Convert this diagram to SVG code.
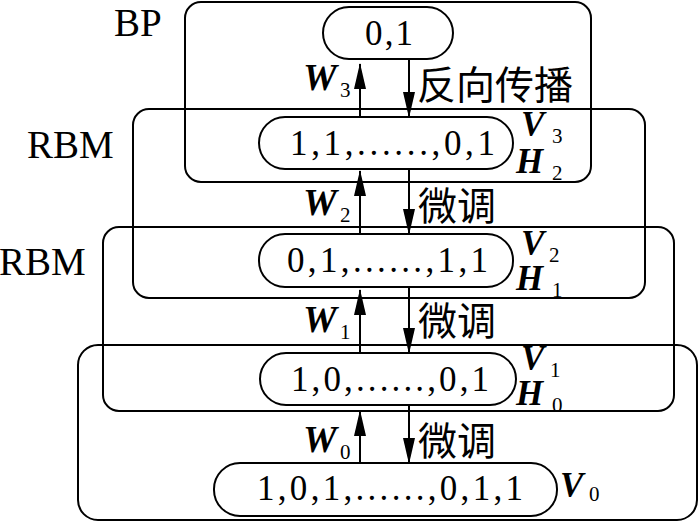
<svg xmlns="http://www.w3.org/2000/svg" width="700" height="523" viewBox="0 0 700 523">
<defs>
<style>
.box{fill:none;stroke:#000;stroke-width:2}
.pill{fill:#fff;stroke:#000;stroke-width:2}
.num{font-family:"Liberation Serif","Times New Roman",serif;font-size:35px;fill:#000}
.lbl{font-family:"Liberation Serif","Times New Roman",serif;font-size:39px;fill:#000}
.var{font-family:"Liberation Serif","Times New Roman",serif;font-size:38px;font-weight:bold;font-style:italic;fill:#000}
.vh{font-family:"Liberation Serif","Times New Roman",serif;font-size:35px;font-weight:bold;font-style:italic;fill:#000}
.idx{font-family:"Liberation Serif","Times New Roman",serif;font-size:21px;fill:#000}
.cjk{font-family:"Noto Sans CJK SC","Noto Sans",sans-serif;font-size:39px;fill:#000}
.ln{stroke:#000;stroke-width:2;fill:none}
</style>
<marker id="ah" markerUnits="userSpaceOnUse" markerWidth="26" markerHeight="12" refX="25" refY="6" orient="auto">
<path d="M0,0 L26,6 L0,12 Z" fill="#000"/>
</marker>
</defs>
<rect width="700" height="523" fill="#fff"/>
<g id="box-bp"><rect class="box" x="185" y="2" width="406" height="180" rx="16"/><text class="lbl" x="114" y="36">BP</text></g>
<g id="box-rbm1"><rect class="box" x="133" y="109" width="512" height="189" rx="16"/><text class="lbl" x="27" y="158">RBM</text></g>
<g id="box-rbm2"><rect class="box" x="103" y="227" width="571" height="184" rx="16"/><text class="lbl" x="-1" y="275">RBM</text></g>
<g id="box-bottom"><rect class="box" x="78" y="345" width="619" height="175" rx="20"/></g>
<g id="layer-out"><rect class="pill" x="323" y="7" width="130" height="52" rx="26"/><text class="num" x="365" y="45" textLength="48" lengthAdjust="spacing">0,1</text></g>
<g id="layer-3"><rect class="pill" x="259" y="117" width="254" height="52" rx="26"/><text class="num" x="290" y="155" textLength="205" lengthAdjust="spacing">1,1,......,0,1</text>
<text class="vh" x="521" y="136">V</text><text class="idx" x="552" y="143">3</text><text class="vh" x="516" y="173">H</text><text class="idx" x="552" y="180">2</text></g>
<g id="layer-2"><rect class="pill" x="259" y="234" width="254" height="53" rx="26"/><text class="num" x="287" y="272" textLength="201" lengthAdjust="spacing">0,1,......,1,1</text>
<text class="vh" x="521" y="255">V</text><text class="idx" x="549" y="262">2</text><text class="vh" x="516" y="290">H</text><text class="idx" x="552" y="297">1</text></g>
<g id="layer-1"><rect class="pill" x="260" y="353" width="256" height="52" rx="26"/><text class="num" x="291" y="391" textLength="198" lengthAdjust="spacing">1,0,......,0,1</text>
<text class="vh" x="521" y="370">V</text><text class="idx" x="550" y="377">1</text><text class="vh" x="516" y="405">H</text><text class="idx" x="552" y="412">0</text></g>
<g id="layer-0"><rect class="pill" x="214" y="463" width="343" height="53" rx="26"/><text class="num" x="257" y="500" textLength="266" lengthAdjust="spacing">1,0,1,......,0,1,1</text>
<text class="vh" x="560" y="497">V</text><text class="idx" x="589" y="501">0</text></g>
<g id="connectors">
<line class="ln" x1="360" y1="117" x2="360" y2="64" marker-end="url(#ah)"/>
<line class="ln" x1="409" y1="59" x2="409" y2="117" marker-end="url(#ah)"/>
<line class="ln" x1="360" y1="234" x2="360" y2="171" marker-end="url(#ah)"/>
<line class="ln" x1="409" y1="169" x2="409" y2="234" marker-end="url(#ah)"/>
<line class="ln" x1="360" y1="353" x2="360" y2="290" marker-end="url(#ah)"/>
<line class="ln" x1="409" y1="287" x2="409" y2="353" marker-end="url(#ah)"/>
<line class="ln" x1="360" y1="463" x2="360" y2="411" marker-end="url(#ah)"/>
<line class="ln" x1="409" y1="405" x2="409" y2="463" marker-end="url(#ah)"/>
<text class="var" x="303" y="90">W</text><text class="idx" x="340" y="97">3</text>
<text class="cjk" x="417" y="99">反向传播</text>
<text class="var" x="303" y="215">W</text><text class="idx" x="340" y="222">2</text>
<text class="cjk" x="418" y="220">微调</text>
<text class="var" x="303" y="332">W</text><text class="idx" x="340" y="339">1</text>
<text class="cjk" x="418" y="335">微调</text>
<text class="var" x="303" y="452">W</text><text class="idx" x="340" y="459">0</text>
<text class="cjk" x="418" y="455">微调</text>
</g>
</svg>
